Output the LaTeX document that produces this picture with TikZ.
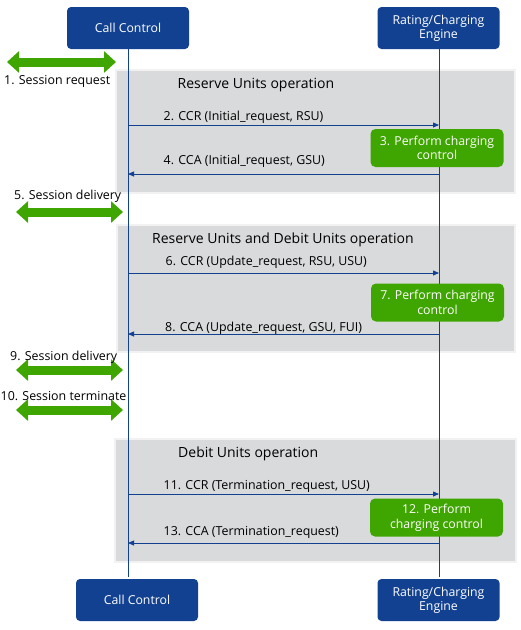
\documentclass[tikz,border=0pt]{standalone}
\usepackage{fontspec}
\setmainfont{Open Sans}
\usetikzlibrary{arrows.meta}
\definecolor{nblue}{HTML}{124191}
\definecolor{ngreen}{HTML}{3FA500}
\definecolor{ngray}{HTML}{D9DADC}
\definecolor{nedge}{HTML}{F2F2F3}
\begin{document}
\begin{tikzpicture}[x=1pt,y=-1pt,
  actor/.style={fill=nblue, rounded corners=4pt, text=white, minimum width=122pt, minimum height=42pt, align=center, inner sep=0pt, font=\fontsize{12.3}{14.3}\selectfont},
  action/.style={fill=ngreen, rounded corners=5pt, text=white, minimum width=133pt, minimum height=38pt, align=center, inner sep=0pt, font=\fontsize{12.3}{14.6}\selectfont},
  panel/.style={fill=ngray, draw=nedge, line width=1.5pt},
  life/.style={draw=nblue, line width=0.8pt},
  msg/.style={draw=nblue, line width=0.8pt, -{Triangle[length=6pt,width=5pt]}},
  session/.style={draw=ngreen, line width=9pt, {Triangle[length=12pt,width=21pt]}-{Triangle[length=12pt,width=21pt]}},
  lbl/.style={inner sep=0pt, anchor=base west, font=\fontsize{12.4}{14}\selectfont},
  ttl/.style={inner sep=0pt, anchor=base west, font=\fontsize{14}{16}\selectfont}
]
\useasboundingbox (0,0) rectangle (521,630);

% panels
\draw[panel] (116,70) rectangle (515,193);
\draw[panel] (117,225) rectangle (515,352);
\draw[panel] (115,439) rectangle (516,562);
\node[ttl] (t1) at (177.5,88) {Reserve Units operation};
\node[ttl] (t2) at (152,243) {Reserve Units and Debit Units operation};
\node[ttl] (t3) at (178,457) {Debit Units operation};

% actors
\node[actor] (cct) at (128,28) {Call Control};
\node[actor] (ret) at (438.5,28) {Rating/Charging\\Engine};
\node[actor] (ccb) at (137,600) {Call Control};
\node[actor] (reb) at (438.5,600) {Rating/Charging\\Engine};

% lifelines
\coordinate (ccend) at (128,577);
\coordinate (reend) at (439,577);
\coordinate (CL) at (128,0);
\coordinate (RL) at (439,0);
\draw[life] (cct.south) -- (ccend);
\draw[life] (RL |- cct.south) -- (reend);

% messages
\draw[msg] (CL |- 0,125) -- (RL |- 0,125);
\node[lbl] (l2) at (163.5,120.7) {2. CCR (Initial\_request, RSU)};
\draw[msg] (RL |- 0,174) -- (CL |- 0,174);
\node[lbl] (l4) at (163.5,164) {4. CCA (Initial\_request, GSU)};
\draw[msg] (CL |- 0,273) -- (RL |- 0,273);
\node[lbl] (l6) at (165.5,265.5) {6. CCR (Update\_request, RSU, USU)};
\draw[msg] (RL |- 0,334) -- (CL |- 0,334);
\node[lbl] (l8) at (165,331) {8. CCA (Update\_request, GSU, FUI)};
\draw[msg] (CL |- 0,494) -- (RL |- 0,494);
\node[lbl] (l11) at (163.5,489) {11. CCR (Termination\_request, USU)};
\draw[msg] (RL |- 0,543) -- (CL |- 0,543);
\node[lbl] (l13) at (163.5,535) {13. CCA (Termination\_request)};

% actions
\node[action] (p3) at (437,148) {3. Perform charging\\control};
\node[action] (p7) at (437.5,302.5) {7. Perform charging\\control};
\node[action] (p12) at (436.5,517.5) {12. Perform\\charging control};

% sessions
\coordinate (s1a) at (7,62); \coordinate (s1b) at (116,62);
\draw[session] (s1a) -- (s1b);
\node[lbl] (l1) at (4,84) {1. Session request};
\coordinate (s5a) at (16,212); \coordinate (s5b) at (123,212);
\draw[session] (s5a) -- (s5b);
\node[lbl] (l5) at (14,199) {5. Session delivery};
\coordinate (s9a) at (16,370); \coordinate (s9b) at (123,370);
\draw[session] (s9a) -- (s9b);
\node[lbl] (l9) at (10,360) {9. Session delivery};
\coordinate (s10a) at (16,410); \coordinate (s10b) at (123,410);
\draw[session] (s10a) -- (s10b);
\node[lbl] (l10) at (0.5,400) {10. Session terminate};
\end{tikzpicture}
\end{document}
